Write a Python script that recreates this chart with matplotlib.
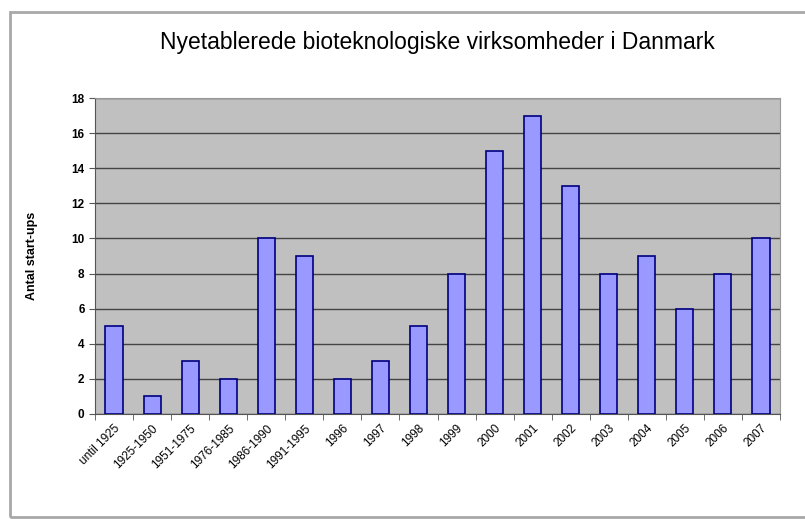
import matplotlib.pyplot as plt
import numpy as np
from matplotlib.patches import Rectangle

plt.rcParams['font.family'] = ['Liberation Sans', 'DejaVu Sans']

perioder = ['until 1925', '1925-1950', '1951-1975', '1976-1985', '1986-1990', '1991-1995',
            '1996', '1997', '1998', '1999', '2000', '2001', '2002', '2003', '2004', '2005',
            '2006', '2007']
startups = [5, 1, 3, 2, 10, 9, 2, 3, 5, 8, 15, 17, 13, 8, 9, 6, 8, 10]

fig = plt.figure(figsize=(8.05, 5.19), dpi=100)
# ramme rundt om diagrammet
fig.patches.append(Rectangle((10/805, 1-517/519), 800/805, 505/519, transform=fig.transFigure,
                             fill=False, edgecolor='#a8a8a8', linewidth=2))

ax = fig.add_axes([95/805, 1-414/519, 685/805, 316/519])
ax.set_facecolor('#c0c0c0')

x = np.arange(len(startups))
ax.bar(x, startups, width=0.45, color='#9999ff', edgecolor='#000080', linewidth=1.2, zorder=3)

ax.set_xlim(-0.5, len(startups) - 0.5)
ax.set_ylim(0, 18)
ax.set_yticks(np.arange(0, 19, 2))
ax.yaxis.grid(True, color='#444444', linewidth=1, zorder=0)
ax.set_axisbelow(True)

ax.set_xticks(x)
ax.set_xticklabels(perioder, rotation=45, ha='right', rotation_mode='anchor', fontsize=8.5)
ax.tick_params(axis='x', length=0, pad=6)
ax.set_xticks(np.arange(-0.5, len(startups), 1), minor=True)
ax.tick_params(axis='x', which='minor', length=4, color='#555555')
ax.tick_params(axis='y', labelsize=8.5, length=4, color='#555555')
for lbl in ax.get_yticklabels():
    lbl.set_fontweight('bold')

for side in ['top', 'right']:
    ax.spines[side].set_color('#999999')
for side in ['left', 'bottom']:
    ax.spines[side].set_color('#555555')

ax.set_ylabel('Antal start-ups', fontsize=9, fontweight='bold', labelpad=24)
fig.text(0.543, 1-42/519, 'Nyetablerede bioteknologiske virksomheder i Danmark',
         ha='center', va='center', fontsize=16.5)

fig.savefig('out.png', dpi=100)
